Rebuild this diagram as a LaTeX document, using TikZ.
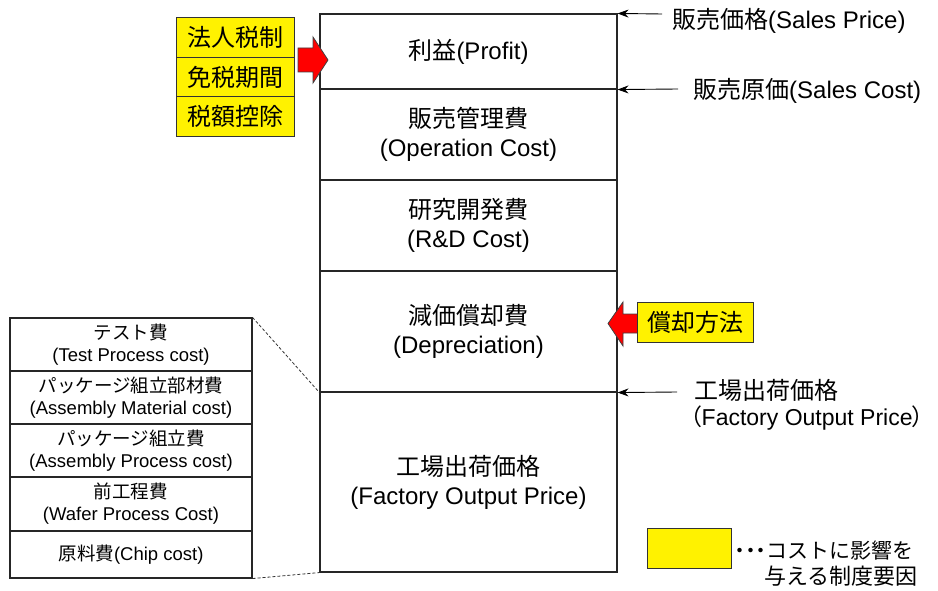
\documentclass[tikz,border=0pt]{standalone}
\usepackage{fontspec}
\setmainfont{Liberation Sans}
\newfontfamily\jp{Noto Sans CJK JP}
\newfontfamily\jpp[RawFeature=+palt]{Noto Sans CJK JP}
\usetikzlibrary{arrows.meta}
\tikzset{
  blk/.style={draw=black!85, line width=1.1pt, minimum width=297pt, inner sep=0pt, align=center,
    font=\fontsize{24}{29}\selectfont},
  lblk/.style={draw=black!85, line width=1.1pt, minimum width=242pt, inner sep=0pt, align=center,
    font=\fontsize{18.5}{22}\selectfont},
  ybox/.style={draw=black!80, line width=0.9pt, fill=yellow, minimum width=118pt, minimum height=39.5pt,
    inner sep=0pt, font=\jp\fontsize{24}{28}\selectfont},
  lbl/.style={inner sep=0pt, anchor=west, font=\fontsize{24}{29}\selectfont},
  thinarr/.style={draw=black, line width=0.9pt, -{Stealth[length=11pt,width=8pt]}},
  redarr/.style={draw=black!75, line width=0.8pt, fill=red, line join=miter},
  dashln/.style={draw=black!80, line width=0.8pt, dash pattern=on 3pt off 2pt},
}
\begin{document}
\begin{tikzpicture}[x=1pt,y=-1pt]
\useasboundingbox (0,0) rectangle (938,591);
% main column
\node[blk, minimum height=75pt]  (profit) at (468.5,51.5)  {{\jp 利益}(Profit)};
\node[blk, minimum height=91pt]  (opc)    at (468.5,134.5) {{\jp 販売管理費}\\(Operation Cost)};
\node[blk, minimum height=91pt]  (rd)     at (468.5,225.5) {{\jp 研究開発費}\\(R\&D Cost)};
\node[blk, minimum height=121pt] (dep)    at (468.5,331.5) {{\jp 減価償却費}\\(Depreciation)};
\node[blk, minimum height=180pt] (fac)    at (468.5,482)   {{\jp 工場出荷価格}\\(Factory Output Price)};
% left breakdown column
\node[lblk, minimum height=53pt] (l1) at (131,344.5) {{\jp テスト費}\\(Test Process cost)};
\node[lblk, minimum height=53pt] (l2) at (131,397.5) {{\jp パッケージ組立部材費}\\(Assembly Material cost)};
\node[lblk, minimum height=53pt] (l3) at (131,450.5) {{\jp パッケージ組立費}\\(Assembly Process cost)};
\node[lblk, minimum height=54pt] (l4) at (131,504)   {{\jp 前工程費}\\(Wafer Process Cost)};
\node[lblk, minimum height=47pt] (l5) at (131,554.5) {{\jp 原料費}(Chip cost)};
\draw[dashln] (l1.north east) -- (dep.south west);
\draw[dashln] (l5.south east) -- (fac.south west);
% yellow factor boxes (left)
\node[ybox] (y1) at (235,37.5)  {法人税制};
\node[ybox] (y2) at (235,77)    {免税期間};
\node[ybox] (y3) at (235,116.5) {税額控除};
\draw[redarr] (298,48) -- (313,48) -- (313,37) -- (328,60) -- (313,83) -- (313,72) -- (298,72) -- cycle;
% right factor box
\draw[redarr] (642,314) -- (623,314) -- (623,302) -- (608,323.5) -- (623,346) -- (623,333) -- (642,333) -- cycle;
\node[ybox, minimum width=116pt] (y4) at (695,322.5) {償却方法};
% right labels and arrows
\node[lbl] (sp) at (672,21) {{\jp 販売価格}(Sales Price)};
\coordinate (spa) at (662,14);
\draw[thinarr] (spa) -- (profit.north east);
\node[lbl] (sc) at (693,91) {{\jp 販売原価}(Sales Cost)};
\coordinate (sca) at (678,89);
\draw[thinarr] (sca) -- (profit.south east);
\node[lbl] (fo1) at (694,390) {{\jp 工場出荷価格}};
\node[lbl, font=\fontsize{23}{28}\selectfont] (fo2) at (690,418) {{\jpp （}Factory Output Price{\jpp ）}};
\coordinate (foa) at (677,392);
\draw[thinarr] (foa) -- (dep.south east);
% legend
\node[draw=black!80, line width=0.9pt, fill=yellow, minimum width=84pt, minimum height=40pt, inner sep=0pt] (leg) at (689,548) {};
\node[inner sep=0pt, anchor=west, font=\fontsize{21}{26}\selectfont] (lt1) at (735,551) {{\jpp ・・・}{\jp コストに影響を}};
\node[inner sep=0pt, anchor=west, font=\fontsize{22}{26}\selectfont] (lt2) at (764,576) {{\jp 与える制度要因}};
\end{tikzpicture}
\end{document}
